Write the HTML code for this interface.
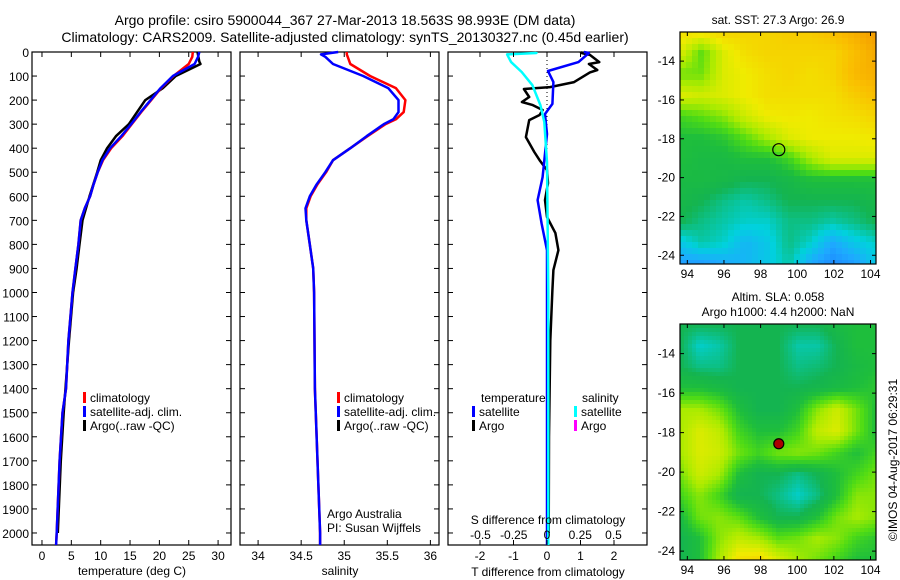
<!DOCTYPE html>
<html><head><meta charset="utf-8"><style>
body{margin:0;background:#fff;}
svg{display:block;font-family:"Liberation Sans",sans-serif;}
text{fill:#000;}
</style></head><body>
<svg id="s" width="900" height="580" viewBox="0 0 900 580" xmlns="http://www.w3.org/2000/svg">
<rect width="900" height="580" fill="#fff"/>
<text x="345" y="25" font-size="14" text-anchor="middle">Argo profile: csiro 5900044_367 27-Mar-2013 18.563S 98.993E (DM data)</text>
<text x="345" y="42" font-size="14" text-anchor="middle">Climatology: CARS2009. Satellite-adjusted climatology: synTS_20130327.nc (0.45d earlier)</text>
<g id="maps"></g>
<g id="plots"></g>
<text x="778" y="24" font-size="12" text-anchor="middle">sat. SST: 27.3 Argo: 26.9</text>
<text x="778" y="301" font-size="12" text-anchor="middle">Altim. SLA: 0.058</text>
<text x="778" y="316" font-size="12" text-anchor="middle">Argo h1000: 4.4 h2000: NaN</text>
<text transform="translate(897,460) rotate(-90)" font-size="12" text-anchor="middle">©IMOS 04-Aug-2017 06:29:31</text>
</svg>
<script>
// ---------- data ----------
const depthTicks=[0,100,200,300,400,500,600,700,800,900,1000,1100,1200,1300,1400,1500,1600,1700,1800,1900,2000];
const tempTicks=[0,5,10,15,20,25,30];
const salTicks=[34,34.5,35,35.5,36];
const tdiffTicks=[-2,-1,0,1,2];
const tdiffLabels=['-2','-1','0','1','2'];
const sdiffTicks=[-0.5,-0.25,0,0.25,0.5];
const sdiffLabels=['-0.5','-0.25','0','0.25','0.5'];
const latTicks=[-14,-16,-18,-20,-22,-24];
const lonTicks=[94,96,98,100,102,104];

const tClimDepth=[0,20,50,100,150,200,250,300,350,400,450,500,550,600,650,700,800,900,1000,1200,1400,1500,1700,2000,2050];
const tClim=[25.7,25.6,25.0,22.4,20.3,18.6,16.9,15.3,13.7,11.8,10.4,9.5,8.8,8.2,7.3,6.6,6.2,5.7,5.2,4.5,4.1,3.5,3.0,2.5,2.4];
const tSat=[26.8,26.6,26.0,22.3,20.2,18.5,16.8,15.2,13.5,11.6,10.3,9.5,8.8,8.2,7.3,6.6,6.2,5.7,5.2,4.5,4.1,3.5,3.0,2.5,2.4];
const tArgoDepth=[0,40,50,100,150,200,250,300,350,400,450,500,600,700,800,900,1000,1200,1500,1700,2000];
const tArgo=[26.5,26.8,27.0,22.8,20.6,17.6,16.2,14.8,12.6,11.1,10.0,9.4,8.1,6.9,6.4,5.9,5.3,4.6,3.7,3.2,2.7];

const sDepth=[0,10,20,50,100,150,200,250,280,300,350,400,450,500,550,600,650,700,800,900,1000,1400,2000,2050];
const sClim=[35.03,35.03,35.04,35.07,35.30,35.60,35.71,35.69,35.60,35.48,35.27,35.07,34.87,34.79,34.69,34.61,34.56,34.56,34.60,34.64,34.65,34.66,34.72,34.72];
const sSat=[34.93,34.73,34.78,34.87,35.22,35.51,35.63,35.63,35.57,35.46,35.26,35.07,34.87,34.78,34.68,34.60,34.55,34.56,34.60,34.64,34.65,34.66,34.72,34.72];

const dTArgoDepth=[0,4,12,42,50,75,85,125,146,154,187,208,220,241,262,283,354,416,450,491,545,616,686,753,824,907,990,1200,1600,2000];
const dTArgo=[1.0,1.03,1.28,1.56,1.25,1.5,1.28,0.81,0.09,-0.69,-0.53,-0.75,-0.44,-0.13,-0.22,-0.53,-0.63,-0.38,-0.22,0,0.03,-0.06,0,0.25,0.34,0.19,0.16,0.1,0.06,0.05];
const dTSatDepth=[0,4,42,79,125,216,258,341,520,616,713,824,1200,2050];
const dTSat=[1.1,1.25,0.94,0.03,0.19,0.16,-0.06,0,-0.13,-0.28,-0.16,0,0,0];
const dSSatDepth=[0,4,10,42,83,138,221,291,458,1000,2050];
const dSSat=[-0.08,-0.08,-0.3,-0.27,-0.19,-0.11,-0.05,-0.02,0,0.01,0.01];

const sstGrid=[
[0.78,0.78,0.80,0.80,0.80,0.82,0.82,0.85,0.88,0.92],
[0.72,0.58,0.72,0.78,0.80,0.80,0.80,0.80,0.85,0.89],
[0.60,0.60,0.72,0.75,0.78,0.80,0.78,0.80,0.86,0.88],
[0.72,0.70,0.72,0.75,0.78,0.78,0.78,0.78,0.82,0.85],
[0.55,0.58,0.62,0.70,0.75,0.76,0.75,0.77,0.78,0.80],
[0.50,0.50,0.52,0.58,0.65,0.72,0.75,0.75,0.75,0.76],
[0.50,0.48,0.48,0.50,0.50,0.55,0.65,0.72,0.72,0.72],
[0.48,0.48,0.47,0.45,0.45,0.47,0.50,0.50,0.50,0.50],
[0.47,0.45,0.42,0.40,0.42,0.45,0.45,0.45,0.45,0.47],
[0.45,0.42,0.40,0.38,0.38,0.42,0.42,0.40,0.42,0.45],
[0.35,0.40,0.38,0.32,0.35,0.42,0.38,0.30,0.35,0.38],
[0.28,0.28,0.30,0.32,0.35,0.40,0.30,0.25,0.28,0.35]];
const slaGrid=[
[.45,.45,.45,.45,.45,.45,.45,.45,.48,.50,.50],
[.45,.38,.40,.45,.45,.45,.40,.40,.45,.50,.50],
[.45,.42,.42,.45,.45,.45,.42,.43,.45,.48,.50],
[.50,.50,.48,.45,.45,.45,.45,.46,.48,.50,.52],
[.65,.65,.60,.50,.45,.45,.50,.62,.70,.60,.50],
[.65,.72,.68,.55,.50,.50,.55,.68,.72,.60,.50],
[.65,.72,.70,.60,.55,.60,.62,.60,.55,.50,.55],
[.60,.70,.65,.50,.45,.45,.42,.45,.50,.55,.60],
[.55,.62,.55,.45,.45,.42,.38,.42,.50,.62,.62],
[.48,.60,.62,.58,.50,.45,.45,.50,.60,.65,.62],
[.45,.50,.62,.68,.65,.58,.60,.65,.62,.55,.52],
[.45,.50,.65,.78,.80,.72,.65,.60,.55,.50,.50]];
const argoLon=98.993, argoLat=-18.563;

// ---------- helpers ----------
const NS='http://www.w3.org/2000/svg';
const plots=document.getElementById('plots');
const maps=document.getElementById('maps');
function mk(tag,attrs,parent){const e=document.createElementNS(NS,tag);for(const k in attrs)e.setAttribute(k,attrs[k]);parent.appendChild(e);return e;}
function txt(x,y,s,size,anchor,parent){const t=mk('text',{x:x,y:y,'font-size':size,'text-anchor':anchor},parent);t.textContent=s;return t;}

const TOP=52,BOT=545,DMAX=2050;
const yD=d=>TOP+d*(BOT-TOP)/DMAX;

function panel(x0,x1,xmin,xmax,name){
  const xf=v=>x0+(v-xmin)*(x1-x0)/(xmax-xmin);
  const g=mk('g',{},plots);
  
  
  const r=mk('rect',{x:x0,y:TOP,width:x1-x0,height:BOT-TOP,fill:'none',stroke:'#000','stroke-width':1.2},g);
  
  
  depthTicks.forEach(d=>{const y=yD(d);
    mk('line',{x1:x0,y1:y,x2:x0+5,y2:y,stroke:'#000'},g);
    mk('line',{x1:x1,y1:y,x2:x1-5,y2:y,stroke:'#000'},g);});
  return {g:g,xf:xf};
}
function line(p,xs,ds,color,w,name){
  const pts=xs.map((v,i)=>p.xf(v).toFixed(1)+','+yD(ds[i]).toFixed(1)).join(' ');
  const pl=mk('polyline',{points:pts,fill:'none',stroke:color,'stroke-width':w,'stroke-linejoin':'round'},p.g);
  
  
}
function xticks(p,ticks,yLab,labels){
  ticks.forEach((v,i)=>{const x=p.xf(v);
    mk('line',{x1:x,y1:BOT,x2:x,y2:BOT-5,stroke:'#000'},p.g);
    mk('line',{x1:x,y1:TOP,x2:x,y2:TOP+5,stroke:'#000'},p.g);
    const t=txt(x,yLab,labels?labels[i]:String(v),12,'middle',p.g);
    
    });
}
function legend(g,x,y,items){
  items.forEach((it,i)=>{const yy=y+i*14;
    mk('rect',{x:x,y:yy-10,width:3,height:11,fill:it[0]},g);
    const t=txt(x+7,yy,it[1],12,'start',g);
    
    });
}

// depth labels
depthTicks.forEach(d=>{const t=txt(29,yD(d)+5,String(d),12,'end',plots);
  
  });

// panel 1 temperature
const p1=panel(32,231,-1.7,32.2,'temperature-panel');
line(p1,tArgo,tArgoDepth,'#000',2.5,'temp-argo-line');
line(p1,tClim,tClimDepth,'#f00',2.5,'temp-climatology-line');
line(p1,tSat,tClimDepth,'#00f',2.5,'temp-satellite-line');
xticks(p1,tempTicks,560);
const xl1=txt(132,575,'temperature (deg C)',12,'middle',plots);

legend(p1.g,83,402,[['#f00','climatology'],['#00f','satellite-adj. clim.'],['#000','Argo(..raw -QC)']]);

// panel 2 salinity
const p2=panel(240,439,33.79,36.1,'salinity-panel');
line(p2,sClim,sDepth,'#f00',2.5,'sal-climatology-line');
line(p2,sSat,sDepth,'#00f',2.5,'sal-satellite-line');
xticks(p2,salTicks,560);
const xl2=txt(340,575,'salinity',12,'middle',plots);

legend(p2.g,337,402,[['#f00','climatology'],['#00f','satellite-adj. clim.'],['#000','Argo(..raw -QC)']]);
const a1=txt(327,518,'Argo Australia',12,'start',plots);

const a2=txt(327,532,'PI: Susan Wijffels',12,'start',plots);


// panel 3 differences
const p3=panel(448,647,-2.955,2.985,'difference-panel');
const p3s={g:p3.g,xf:v=>547+v*133};
mk('line',{x1:p3.xf(0),y1:TOP,x2:p3.xf(0),y2:BOT,stroke:'#000','stroke-dasharray':'1,3'},p3.g);
line(p3,dTArgo,dTArgoDepth,'#000',2.5,'tdiff-argo-line');
line(p3,dTSat,dTSatDepth,'#00f',2.5,'tdiff-satellite-line');
line(p3s,dSSat,dSSatDepth,'#0ff',2.5,'sdiff-satellite-line');
xticks(p3,tdiffTicks,560,tdiffLabels);
sdiffTicks.forEach((v,i)=>{const t=txt(p3s.xf(v),539,sdiffLabels[i],12,'middle',p3.g);
  });
const st=txt(548,524,'S difference from climatology',12,'middle',plots);

const tt=txt(548,576,'T difference from climatology',12,'middle',plots);

txt(481,402,'temperature',12,'start',p3.g);
txt(582,402,'salinity',12,'start',p3.g);
legend(p3.g,472,416,[['#00f','satellite'],['#000','Argo']]);
legend(p3.g,574,416,[['#0ff','satellite'],['#f0f','Argo']]);

// ---------- maps ----------
const stops=[[0.2,[30,110,255]],[0.3,[30,170,255]],[0.37,[0,210,220]],[0.45,[20,180,80]],[0.5,[30,190,60]],[0.57,[80,220,20]],[0.65,[170,235,0]],[0.75,[240,235,0]],[0.85,[250,190,0]],[0.95,[240,140,0]]];
function cmap(v){
  if(v<=stops[0][0])return stops[0][1];
  for(let i=1;i<stops.length;i++){if(v<=stops[i][0]){const a=stops[i-1],b=stops[i],t=(v-a[0])/(b[0]-a[0]);
    return a[1].map((c,k)=>Math.round(c+(b[1][k]-c)*t));}}
  return stops[stops.length-1][1];
}
function sample(grid,fx,fy){
  const R=grid.length,C=grid[0].length;
  fx=Math.max(0,Math.min(C-1,fx));fy=Math.max(0,Math.min(R-1,fy));
  const i=Math.min(R-2,Math.floor(fy)),j=Math.min(C-2,Math.floor(fx));
  const u=fx-j,w=fy-i;
  return grid[i][j]*(1-u)*(1-w)+grid[i][j+1]*u*(1-w)+grid[i+1][j]*(1-u)*w+grid[i+1][j+1]*u*w;
}
function drawMap(y0,y1,grid,cell,name,filled){
  const x0=680,x1=876;
  const lonMin=93.6,lonMax=104.3,latMax=-12.5,latMin=-24.45;
  const xf=l=>x0+(l-lonMin)*(x1-x0)/(lonMax-lonMin);
  const yf=l=>y0+(latMax-l)*(y1-y0)/(latMax-latMin);
  const g=mk('g',{},maps);
  
  
  const C=grid[0].length,R=grid.length;
  const lonStep=(lonMax-lonMin)/(C-1), latStep=(latMax-latMin)/(R-1);
  for(let y=y0;y<y1;y+=cell){for(let x=x0;x<x1;x+=cell){
    const lon=lonMin+(x+cell/2-x0)/(x1-x0)*(lonMax-lonMin);
    const lat=latMax-(y+cell/2-y0)/(y1-y0)*(latMax-latMin);
    const v=sample(grid,(lon-lonMin)/lonStep,(latMax-lat)/latStep);
    const c=cmap(v);
    mk('rect',{x:x,y:y,width:Math.min(cell,x1-x)+0.5,height:Math.min(cell,y1-y)+0.5,fill:'rgb('+c.join(',')+')'},g);
  }}
  mk('rect',{x:x0,y:y0,width:x1-x0,height:y1-y0,fill:'none',stroke:'#000','stroke-width':1.2},g);
  latTicks.forEach(l=>{const y=yf(l);mk('line',{x1:x0,y1:y,x2:x0+4,y2:y,stroke:'#000'},g);mk('line',{x1:x1,y1:y,x2:x1-4,y2:y,stroke:'#000'},g);
    const t=txt(x0-5,y+4,String(l),12,'end',g);});
  lonTicks.forEach(l=>{const x=xf(l);mk('line',{x1:x,y1:y1,x2:x,y2:y1-4,stroke:'#000'},g);mk('line',{x1:x,y1:y0,x2:x,y2:y0+4,stroke:'#000'},g);
    const t=txt(x,y1+14,String(l),12,'middle',g);});
  const c=mk('circle',{cx:xf(argoLon),cy:yf(argoLat),r:filled?5:6,fill:filled?'#a00':'none',stroke:'#000','stroke-width':1.2},g);
  
  
}
drawMap(32,264,sstGrid,6,'sst-map',false);
drawMap(324,560,slaGrid,4,'sla-map',true);
</script>
</body></html>
